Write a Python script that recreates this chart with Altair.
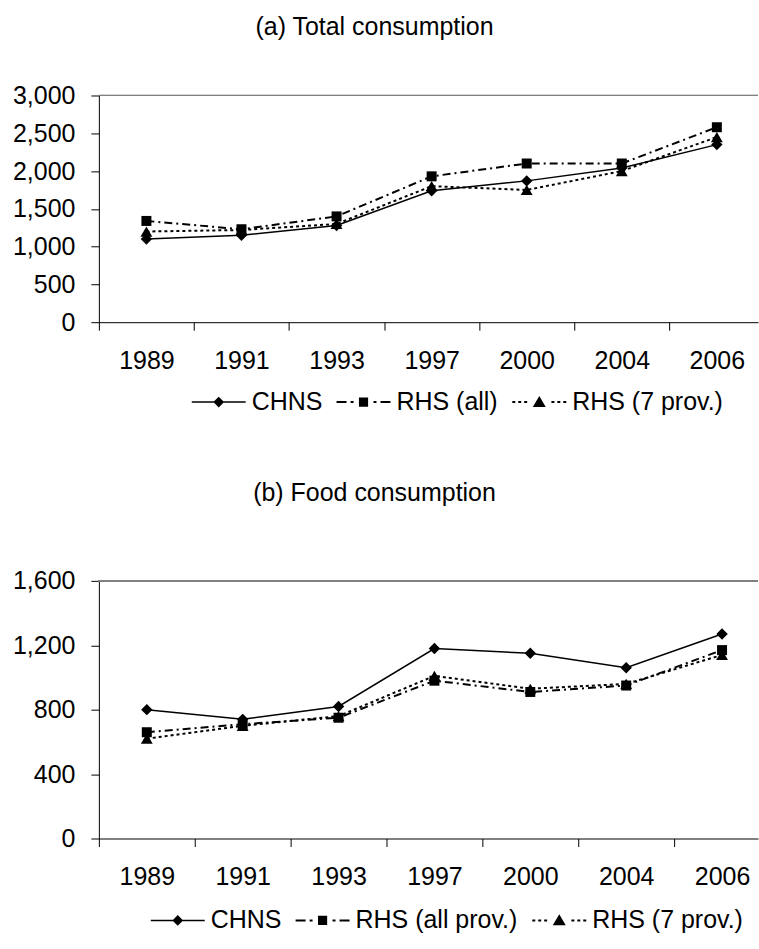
import altair as alt
import pandas as pd

# Survey years shown on the category axis
years = ["1989", "1991", "1993", "1997", "2000", "2004", "2006"]

# (a) Total consumption per capita
series_a = ["CHNS", "RHS (all)", "RHS (7 prov.)"]
total_chns = [1100, 1150, 1280, 1740, 1870, 2040, 2350]
total_rhs_all = [1340, 1230, 1400, 1930, 2100, 2100, 2580]
total_rhs_7 = [1200, 1220, 1300, 1800, 1750, 2000, 2450]

# (b) Food consumption per capita
series_b = ["CHNS", "RHS (all prov.)", "RHS (7 prov.)"]
food_chns = [800, 740, 820, 1180, 1150, 1060, 1270]
food_rhs_all = [660, 710, 750, 980, 910, 950, 1170]
food_rhs_7 = [620, 700, 760, 1010, 930, 960, 1140]

FONT = "Liberation Sans"
FS = 25
WIDTH = 660

# per-series line/marker styling (solid, dash-dot, dotted)
dashes = [None, [8, 4, 2, 4], [3, 3]]
line_widths = [1.5, 2, 2]
shapes = ["diamond", "square", "triangle-up"]
sizes = [130, 100, 140]

# legend keys: line pattern + marker as one filled symbol path (unit box -1..1)
LEGEND_LEN = 54


def seg(x0, x1, h):
    return "M%g,%gH%gV%gH%gZ" % (x0, -h, x1, h, x0)


def segs(pairs, h):
    return "".join(seg(a, b, h) for a, b in pairs)


legend_paths = [
    seg(-1, 1, 0.028) + "M0,-0.2L0.2,0L0,0.2L-0.2,0Z",
    segs([(-1, -0.63), (-0.48, -0.37), (0.37, 0.48), (0.63, 1)], 0.037)
    + "M-0.17,-0.17H0.17V0.17H-0.17Z",
    segs([(-1, -0.89), (-0.78, -0.67), (-0.56, -0.45),
          (0.45, 0.56), (0.67, 0.78), (0.89, 1)], 0.037)
    + "M0,-0.23L0.24,0.18L-0.24,0.18Z",
]

label_expr = "[" + ",".join("'%s'" % y for y in years) + "][datum.value]"


def long_frame(names, cols):
    rows = []
    for name, vals in zip(names, cols):
        for i, (yr, v) in enumerate(zip(years, vals)):
            rows.append({"idx": i, "year": yr, "series": name, "value": v})
    return pd.DataFrame(rows)


def panel(names, cols, ymax, ystep, title, band, height, leg_x, leg_y, title_offset):
    df = long_frame(names, cols)
    xmax = -0.5 + WIDTH / band
    x_enc = alt.X(
        "idx:Q",
        scale=alt.Scale(domain=[-0.5, xmax], nice=False, zero=False),
        axis=alt.Axis(
            values=list(range(len(years))),
            labelExpr=label_expr,
            tickOffset=-band / 2,
            labelOffset=band / 2,
            title=None,
            grid=False,
            tickSize=8,
            labelPadding=18,
            labelFont=FONT,
            labelFontSize=FS,
            labelColor="black",
            domainColor="black",
            tickColor="black",
            labelFlush=False,
            labelOverlap=False,
        ),
    )
    y_enc = alt.Y(
        "value:Q",
        scale=alt.Scale(domain=[0, ymax], nice=False),
        axis=alt.Axis(
            values=list(range(0, ymax + 1, ystep)),
            format=",.0f",
            title=None,
            grid=False,
            tickSize=8,
            labelPadding=16,
            labelFont=FONT,
            labelFontSize=FS,
            labelColor="black",
            domainColor="black",
            tickColor="black",
        ),
    )
    base = alt.Chart(df).encode(x=x_enc, y=y_enc)

    # top frame line of the plot area
    layers = [
        alt.Chart(df)
        .mark_rule(color="#808080", strokeWidth=1)
        .encode(y=alt.value(0))
    ]

    for name, dash, w, shp, sz in zip(names, dashes, line_widths, shapes, sizes):
        sub = base.transform_filter(alt.datum.series == name)
        line_kw = dict(color="black", strokeWidth=w)
        if dash:
            line_kw["strokeDash"] = dash
        layers.append(sub.mark_line(**line_kw))
        layers.append(
            sub.mark_point(shape=shp, size=sz, filled=True, color="black", opacity=1)
        )

    # legend source: no marks, only the series key
    layers.append(
        alt.Chart(df)
        .transform_filter("false")
        .mark_point(filled=True, color="black", strokeWidth=0, opacity=1)
        .encode(
            shape=alt.Shape(
                "series:N",
                scale=alt.Scale(domain=names, range=legend_paths),
                legend=alt.Legend(
                    title=None,
                    orient="none",
                    legendX=leg_x,
                    legendY=leg_y,
                    direction="horizontal",
                    symbolSize=LEGEND_LEN ** 2,
                    symbolStrokeWidth=0,
                    symbolFillColor="black",
                    labelFont=FONT,
                    labelFontSize=FS,
                    labelColor="black",
                    labelLimit=500,
                    labelOffset=6,
                    columnPadding=14,
                ),
            )
        )
    )

    return alt.layer(*layers).properties(
        width=WIDTH,
        height=height,
        title=alt.TitleParams(
            text=title,
            font=FONT,
            fontSize=FS,
            fontWeight="normal",
            color="black",
            offset=title_offset,
            dx=-54,
        ),
    )


top = panel(
    series_a,
    [total_chns, total_rhs_all, total_rhs_7],
    3000, 500, "(a) Total consumption", 95.2, 227, 93, 280, 44,
)
bottom = panel(
    series_b,
    [food_chns, food_rhs_all, food_rhs_7],
    1600, 400, "(b) Food consumption", 96.0, 258, 52, 313, 63,
)

chart = (
    alt.vconcat(top, bottom, spacing=66)
    .resolve_scale(shape="independent")
    .resolve_legend(shape="independent")
    .properties(padding={"left": 12, "top": 14, "right": 0, "bottom": 0}, background="white")
    .configure_view(stroke=None)
)

chart.save("out.html", embed_options={"renderer": "svg", "actions": False})
